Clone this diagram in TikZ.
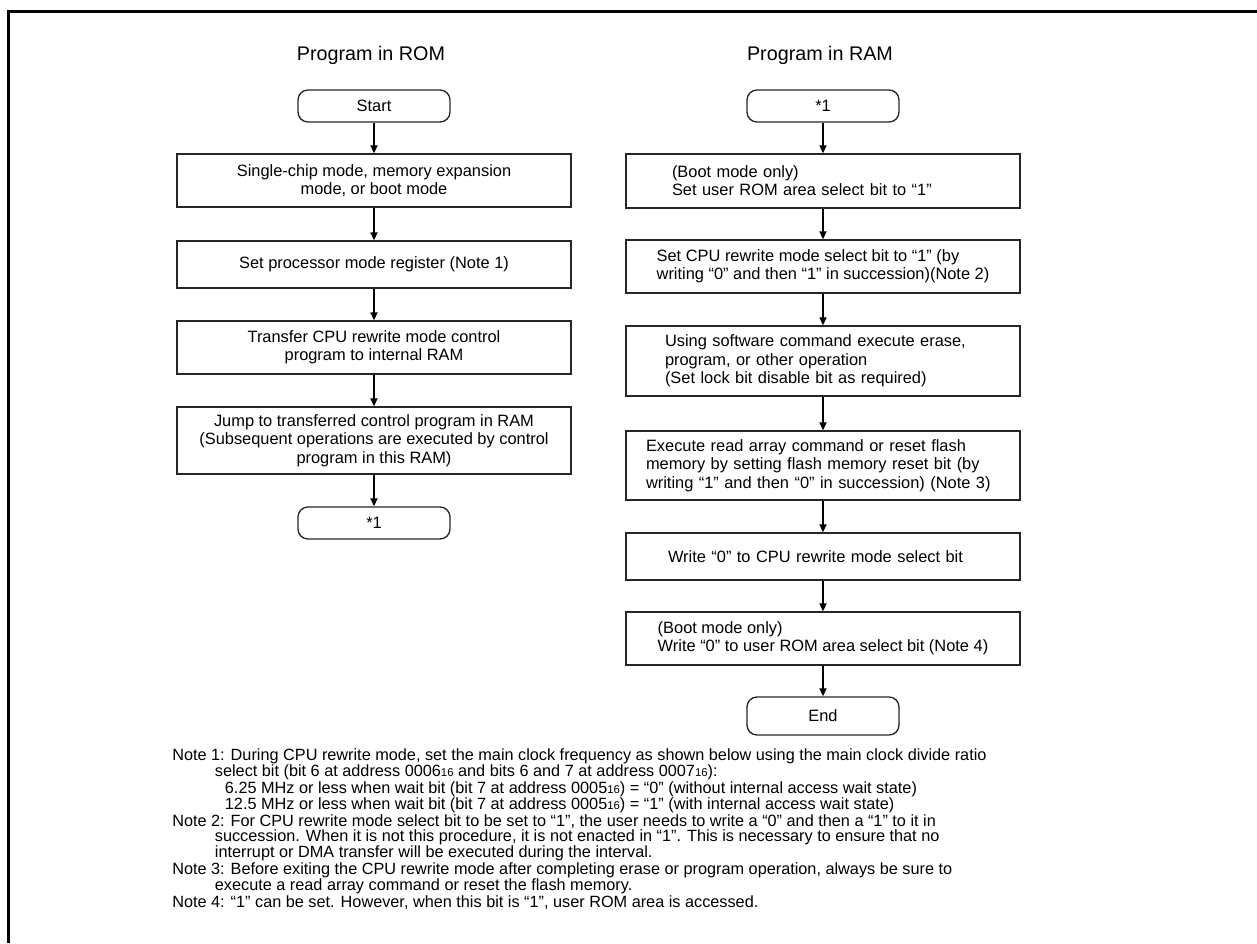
\documentclass[tikz,border=0pt]{standalone}
\usepackage{fontspec}
\setmainfont{Liberation Sans}
\usetikzlibrary{arrows.meta}
\newcommand\sixteen{{\fontsize{8.5pt}{8.5pt}\selectfont 16}}
\newcommand\boxfont{\fontsize{12.3pt}{13.7pt}\selectfont}
\newcommand\notefont{\fontsize{12.2pt}{11.3pt}\selectfont}
\newcommand\titlefont{\fontsize{14.8pt}{17pt}\selectfont}
\begin{document}
\begin{tikzpicture}[x=0.75pt,y=-0.75pt,
  frame/.style={line width=2pt, draw=black},
  stepbox/.style={draw=black!85, line width=1pt, minimum width=295.5pt, inner sep=0pt, align=center, font=\boxfont},
  lbox/.style={stepbox, align=left},
  wbox/.style={stepbox, align=left, text width=#1},
  term/.style={stepbox, rounded corners=7.5pt, minimum width=114pt},
  flow/.style={-{Triangle[length=6pt,width=5.25pt]}, line width=1.25pt, draw=black},
  title/.style={font=\titlefont, inner sep=0pt},
  notes/.style={anchor=north west, inner sep=0pt, align=left, font=\notefont},
]
\useasboundingbox (0,0) rectangle (1257,943);
\coordinate (fbl) at (8.7,943);
\coordinate (ftl) at (8.7,11.3);
\coordinate (ftr) at (1257,11.3);
\draw[frame] (fbl) -- (ftl) -- (ftr);

\node[title] (tROM) at (371,55) {Program in ROM};
\node[title] (tRAM) at (820,55) {Program in RAM};

% left column
\node[term, minimum height=24pt] (start) at (374,106) {Start};
\node[stepbox, minimum height=39.75pt] (L1) at (374,180.5) {Single-chip mode, memory expansion\\mode, or boot mode};
\node[stepbox, minimum height=35.25pt] (L2) at (374,264.5) {Set processor mode register (Note 1)};
\node[stepbox, minimum height=39.75pt] (L3) at (374,347.5) {Transfer CPU rewrite mode control\\program to internal RAM};
\node[stepbox, minimum height=50.25pt] (L4) at (374,440.5) {Jump to transferred control program in RAM\\(Subsequent operations are executed by control\\program in this RAM)};
\node[term, minimum height=24pt] (LE) at (374,523) {*1};

% right column
\node[term, minimum height=24pt] (RS) at (823,106) {*1};
\node[wbox=226.5pt, minimum height=40.5pt] (R1) at (823,181) {(Boot mode only)\\Set user ROM area select bit to “1”};
\node[lbox, minimum height=39.75pt] (R2) at (823,266.5) {Set CPU rewrite mode select bit to “1” (by\\writing “0” and then “1” in succession)(Note 2)};
\node[wbox=237pt, minimum height=52.5pt] (R3) at (823,361) {Using software command execute erase,\\program, or other operation\\(Set lock bit disable bit as required)};
\node[wbox=265.5pt, minimum height=51.75pt] (R4) at (823,465.5) {Execute read array command or reset flash\\memory by setting flash memory reset bit (by\\writing “1” and then “0” in succession) (Note 3)};
\node[wbox=232.5pt, minimum height=35.25pt] (R5) at (823,556.5) {Write “0” to CPU rewrite mode select bit};
\node[lbox, minimum height=39.75pt] (R6) at (823,638.5) {(Boot mode only)\\Write “0” to user ROM area select bit (Note 4)};
\node[term, minimum height=28.5pt] (end) at (823,716) {End};

\draw[flow] (start) -- (L1);
\draw[flow] (L1) -- (L2);
\draw[flow] (L2) -- (L3);
\draw[flow] (L3) -- (L4);
\draw[flow] (L4) -- (LE);

\draw[flow] (RS) -- (R1);
\draw[flow] (R1) -- (R2);
\draw[flow] (R2) -- (R3);
\draw[flow] (R3) -- (R4);
\draw[flow] (R4) -- (R5);
\draw[flow] (R5) -- (R6);
\draw[flow] (R6) -- (end);

\node[notes] (notes) at (172,748) {Note 1: During CPU rewrite mode, set the main clock frequency as shown below using the main clock divide ratio\\
\hspace*{32pt}select bit (bit 6 at address 0006\sixteen{} and bits 6 and 7 at address 0007\sixteen):\\
\hspace*{39.5pt}6.25 MHz or less when wait bit (bit 7 at address 0005\sixteen) = “0” (without internal access wait state)\\
\hspace*{39.5pt}12.5 MHz or less when wait bit (bit 7 at address 0005\sixteen) = “1” (with internal access wait state)\\
Note 2: For CPU rewrite mode select bit to be set to “1”, the user needs to write a “0” and then a “1” to it in\\
\hspace*{32pt}succession. When it is not this procedure, it is not enacted in “1”. This is necessary to ensure that no\\
\hspace*{32pt}interrupt or DMA transfer will be executed during the interval.\\
Note 3: Before exiting the CPU rewrite mode after completing erase or program operation, always be sure to\\
\hspace*{32pt}execute a read array command or reset the flash memory.\\
Note 4: “1” can be set. However, when this bit is “1”, user ROM area is accessed.};
\end{tikzpicture}
\end{document}
